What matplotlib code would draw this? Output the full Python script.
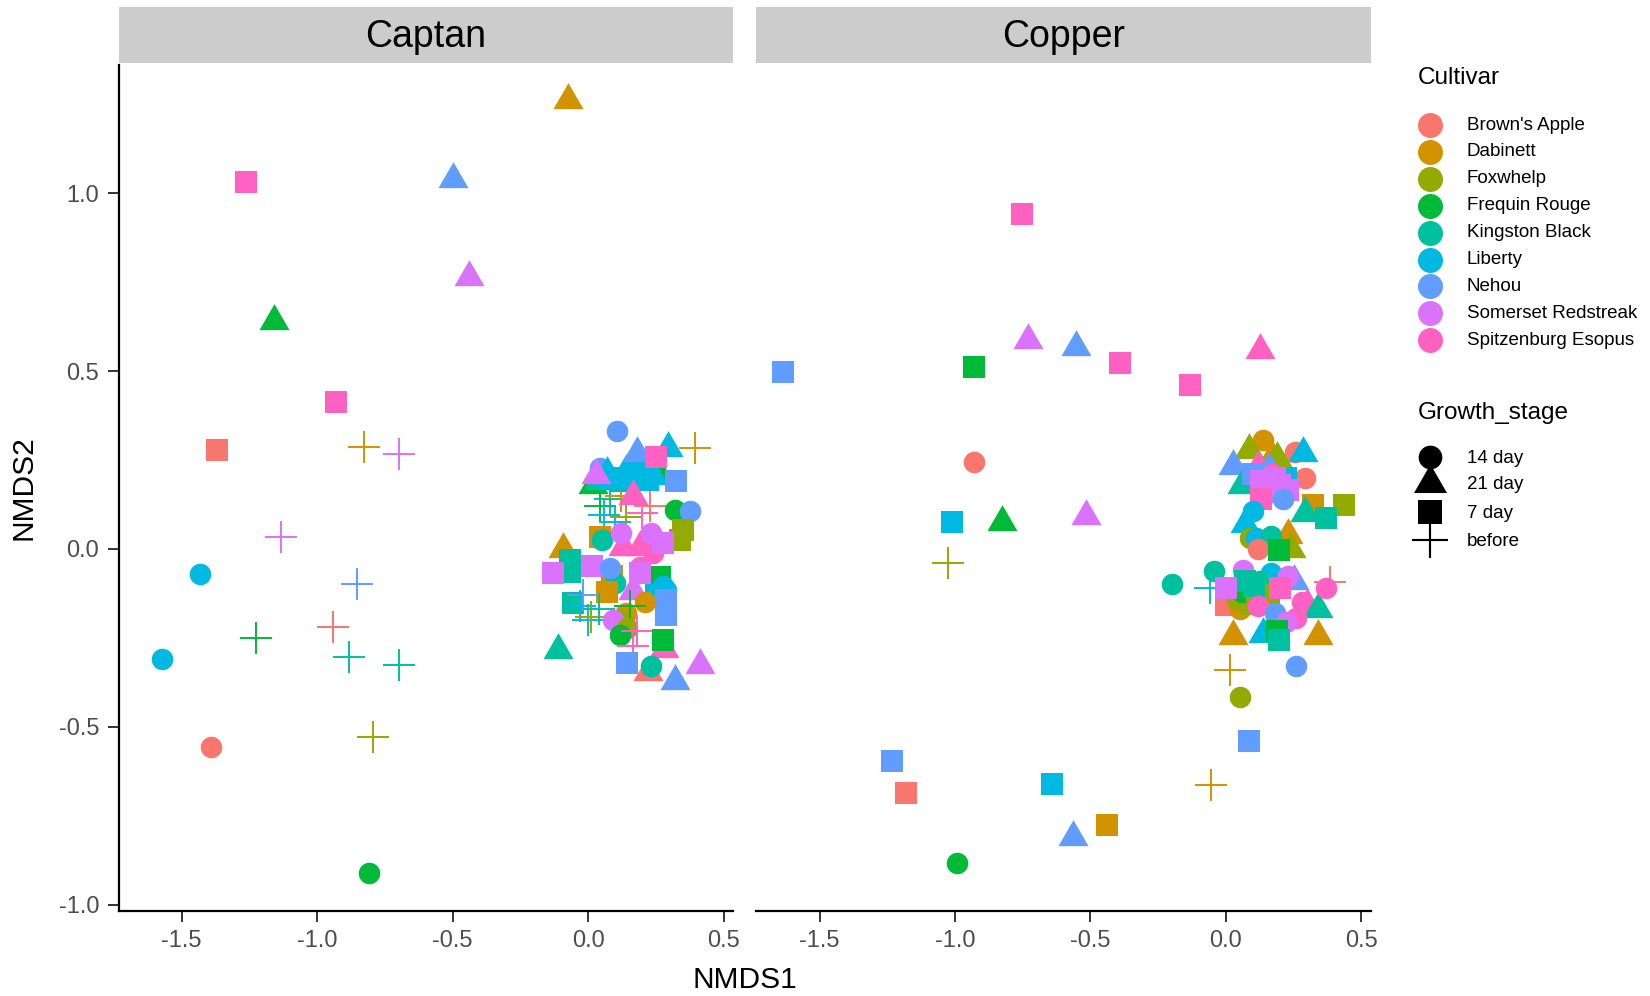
import matplotlib
matplotlib.use("Agg")
import matplotlib.pyplot as plt
import numpy as np

plt.rcParams['font.family'] = ['Liberation Sans', 'DejaVu Sans']

CULTIVARS = ["Brown's Apple", "Dabinett", "Foxwhelp", "Frequin Rouge", "Kingston Black",
             "Liberty", "Nehou", "Somerset Redstreak", "Spitzenburg Esopus"]
COLORS = ["#F8766D", "#D39200", "#93AA00", "#00BA38", "#00C19F",
          "#00B9E3", "#619CFF", "#DB72FB", "#FF61C3"]
STAGES = ["14 day", "21 day", "7 day", "before"]
FACETS = ["Captan", "Copper"]

# Captan: NMDS scores, cultivar index, stage index
cap_x = [-0.074, -1.264, -0.500, -0.438, -1.159, -0.930, -1.368, -0.826,
         -0.698, -1.132, -1.434, -0.853, -1.574, -1.225, -0.942, -0.884,
         -0.698, -0.795, -1.391, -0.810, 0.395, 0.045, 0.08, 0.12,
         0.06, 0.10, 0.14, 0.20, 0.23, 0.02, 0.19, 0.26,
         0.105, 0.043, 0.04, 0.06, 0.12, 0.07, 0.10, 0.14, 0.18, 0.22,
         0.20, 0.24, 0.295, 0.179, 0.252, 0.326, 0.031, 0.166, 0.32,
         0.375, 0.35, 0.34, 0.043, 0.05, 0.13, 0.19, 0.24,
         0.123, 0.234, 0.277, -0.092, -0.067, -0.067, -0.129, 0.09,
         0.013, 0.1, 0.08, 0.19, 0.265, 0.191, 0.277, 0.289, 0.25, 0.166,
         0.289, 0.289, -0.055, 0.07, -0.02, 0.21, 0.14, 0.12, -0.03, 0.0, 0.01,
         0.04, 0.155, 0.093, 0.142, 0.117, 0.18, 0.166, 0.22, 0.28,
         0.277, -0.11, 0.142, 0.234, 0.412, 0.32]
cap_y = [1.263, 1.033, 1.040, 0.766, 0.642, 0.414, 0.278, 0.287,
         0.266, 0.033, -0.071, -0.098, -0.308, -0.249, -0.219, -0.305,
         -0.325, -0.530, -0.556, -0.911, 0.284, 0.12, 0.14, 0.15,
         0.095, 0.075, 0.09, 0.10, 0.12, 0.18, 0.235, 0.21,
         0.331, 0.228, 0.19, 0.20, 0.19, 0.215, 0.20, 0.22, 0.20, 0.195,
         0.215, 0.205, 0.284, 0.27, 0.26, 0.19, 0.209, 0.148, 0.11,
         0.106, 0.054, 0.026, 0.035, 0.025, 0.005, 0.005, -0.01,
         0.045, 0.045, 0.017, 0.0, -0.03, -0.065, -0.067, -0.075,
         -0.049, -0.096, -0.053, -0.05, -0.08, -0.068, -0.105, -0.114, -0.13, -0.119,
         -0.143, -0.185, -0.152, -0.12, -0.13, -0.15, -0.18, -0.20, -0.16, -0.20, -0.19,
         -0.17, -0.16, -0.199, -0.222, -0.241, -0.23, -0.274, -0.345, -0.28,
         -0.255, -0.283, -0.32, -0.33, -0.325, -0.372]
cap_cv = [1, 8, 6, 7, 3, 8, 0, 1,
          7, 7, 5, 6, 5, 3, 0, 4,
          4, 2, 0, 3, 1, 3, 4, 1,
          5, 5, 2, 8, 0, 3, 3, 3,
          6, 6, 4, 5, 4, 5, 5, 5, 5, 5,
          5, 5, 5, 6, 8, 6, 7, 8, 3,
          6, 2, 2, 1, 4, 8, 8, 8,
          7, 7, 7, 1, 4, 4, 7, 1,
          7, 4, 6, 8, 3, 7, 5, 5, 5, 7,
          6, 6, 4, 1, 6, 1, 1, 2, 5, 5, 2,
          4, 3, 7, 2, 3, 8, 8, 0, 8,
          3, 4, 6, 4, 7, 6]
cap_st = [1, 2, 1, 1, 1, 2, 2, 3,
          3, 3, 0, 3, 0, 3, 3, 3,
          3, 3, 0, 0, 3, 3, 3, 3,
          3, 3, 3, 3, 3, 1, 1, 1,
          0, 0, 1, 0, 2, 1, 2, 1, 2, 2,
          2, 1, 1, 1, 2, 2, 1, 1, 0,
          0, 2, 2, 2, 0, 1, 1, 0,
          0, 0, 2, 1, 2, 2, 2, 2,
          2, 0, 0, 0, 2, 2, 0, 0, 2, 1,
          2, 2, 2, 2, 3, 0, 0, 0, 3, 3, 3,
          3, 3, 0, 0, 0, 3, 3, 1, 1,
          2, 1, 2, 0, 1, 1]

# Copper
cop_x = [-0.754, -1.636, -0.929, -0.730, -0.552, -0.392, -0.132, 0.124,
         -0.929, -1.010, -0.828, -0.517, -1.026, -0.198, 0.016, 0.050,
         -1.232, -1.181, 0.085, -0.641, -0.054, -0.439, -0.563, -0.991,
         0.385, 0.136, 0.086, 0.253, 0.283, 0.17, 0.19, 0.025,
         0.12, 0.16, 0.29, 0.22, 0.06, 0.086, 0.10, 0.17, 0.13, 0.18,
         0.15, 0.20, 0.23, 0.13, 0.21, 0.32, 0.437, 0.29, 0.37, 0.1,
         0.07, 0.09, 0.11, 0.23, 0.166, 0.12, 0.24, 0.197,
         -0.06, -0.043, 0.062, 0.25, 0.166, 0.228, 0.0, 0.05,
         0.04, 0.06, 0.07, 0.125, 0.0, 0.16, 0.10, 0.135, 0.11, 0.105, 0.2,
         0.12, 0.18, 0.28, 0.3,
         0.34, 0.26, 0.222, 0.025, 0.136, 0.19, 0.197, 0.339,
         0.259, 0.37]
cop_y = [0.941, 0.497, 0.512, 0.589, 0.568, 0.524, 0.462, 0.559,
         0.246, 0.077, 0.077, 0.092, -0.038, -0.098, -0.340, -0.417,
         -0.595, -0.686, -0.541, -0.660, -0.663, -0.775, -0.811, -0.882,
         -0.092, 0.307, 0.279, 0.274, 0.27, 0.26, 0.255, 0.232,
         0.23, 0.225, 0.20, 0.20, 0.18, 0.19, 0.21, 0.21, 0.19, 0.20,
         0.16, 0.18, 0.165, 0.14, 0.14, 0.125, 0.125, 0.10, 0.087, 0.106,
         0.07, 0.03, 0.03, 0.04, 0.036, 0.0, 0.0, -0.002,
         -0.11, -0.063, -0.058, -0.09, -0.068, -0.077, -0.157, -0.17,
         -0.14, -0.12, -0.09, -0.09, -0.11, -0.13, -0.16, -0.134, -0.14, -0.105, -0.11,
         -0.16, -0.18, -0.15, -0.157,
         -0.17, -0.195, -0.204, -0.246, -0.24, -0.23, -0.255, -0.246,
         -0.33, -0.11]
cop_cv = [8, 6, 3, 7, 6, 8, 8, 8,
          0, 5, 3, 7, 2, 4, 1, 2,
          6, 0, 6, 5, 1, 1, 6, 3,
          0, 1, 2, 0, 5, 1, 2, 6,
          8, 6, 0, 5, 4, 4, 6, 8, 7, 7,
          7, 7, 7, 8, 6, 1, 2, 4, 4, 5,
          5, 2, 5, 1, 4, 0, 2, 3,
          5, 4, 7, 6, 5, 7, 0, 1,
          2, 3, 4, 4, 7, 2, 2, 2, 2, 4, 8,
          8, 6, 8, 8,
          4, 8, 7, 1, 5, 3, 4, 1,
          6, 8]
cop_st = [2, 2, 2, 1, 1, 2, 2, 1,
          0, 2, 1, 1, 3, 0, 3, 0,
          2, 2, 2, 2, 3, 2, 1, 0,
          3, 0, 1, 0, 1, 1, 1, 1,
          1, 1, 0, 2, 1, 0, 2, 0, 2, 2,
          2, 2, 2, 2, 0, 2, 2, 1, 2, 0,
          1, 0, 0, 1, 0, 0, 1, 2,
          3, 0, 0, 1, 0, 0, 2, 0,
          0, 0, 2, 0, 2, 2, 1, 0, 0, 2, 2,
          0, 0, 0, 1,
          1, 0, 0, 1, 1, 2, 2, 1,
          0, 0]

# marker look (matplotlib pt)
tri = [(-1, -0.577), (1, -0.577), (0, 1.155)]
SHAPE = {0: ('o', 15.5), 1: (tri, 25), 2: ('s', 16), 3: ('+', 23)}


def draw_point(ax, x, y, cv, st, scale=1.0, color=None):
    m, ms = SHAPE[st]
    c = COLORS[cv] if color is None else color
    if st == 3:
        ax.plot(x, y, linestyle='none', marker=m, ms=ms * scale, color=c, mew=1.4 * scale)
    else:
        ax.plot(x, y, linestyle='none', marker=m, ms=ms * scale, color=c, mew=0)


W, H = 1650, 996
fig = plt.figure(figsize=(W / 100, H / 100), dpi=100)

panels = [(118.5, cap_x, cap_y, cap_cv, cap_st), (756.4, cop_x, cop_y, cop_cv, cop_st)]
pw = 614.8
top, bot = 65.0, 911.0
for i, (left, xs, ys, cvs, sts) in enumerate(panels):
    ax = fig.add_axes([left / W, 1 - bot / H, pw / W, (bot - top) / H])
    for x, y, cv, st in zip(xs, ys, cvs, sts):
        draw_point(ax, x, y, cv, st)
    ax.set_xlim(-1.733, 0.536)
    ax.set_ylim(-1.018, 1.361)
    ax.set_xticks([-1.5, -1.0, -0.5, 0.0, 0.5])
    ax.set_xticklabels(["-1.5", "-1.0", "-0.5", "0.0", "0.5"])
    ax.set_yticks([-1.0, -0.5, 0.0, 0.5, 1.0])
    ax.set_yticklabels(["-1.0", "-0.5", "0.0", "0.5", "1.0"])
    for s in ['top', 'right']:
        ax.spines[s].set_visible(False)
    for s in ['left', 'bottom']:
        ax.spines[s].set_linewidth(1.6)
        ax.spines[s].set_color('black')
    ax.tick_params(length=8, width=1.4, color='#333333', labelsize=17,
                   labelcolor='#4D4D4D', pad=6)
    if i == 1:
        ax.spines['left'].set_visible(False)
        ax.tick_params(axis='y', left=False, labelleft=False)

    # facet strip
    sax = fig.add_axes([left / W, 1 - 63 / H, pw / W, 56 / H])
    sax.set_facecolor('#CCCCCC')
    for s in sax.spines.values():
        s.set_visible(False)
    sax.set_xticks([])
    sax.set_yticks([])
    sax.text(0.5, 0.47, FACETS[i], ha='center', va='center', fontsize=27,
             color='black', transform=sax.transAxes)

fig.text(745 / W, 1 - 980 / H, "NMDS1", ha='center', va='center', fontsize=21.5)
fig.text(23 / W, 1 - 488 / H, "NMDS2", ha='center', va='center', fontsize=21.5,
         rotation=90)

# legends
lax = fig.add_axes([0, 0, 1, 1])
lax.set_xlim(0, W)
lax.set_ylim(H, 0)
lax.axis('off')
lax.text(1418, 78, "Cultivar", ha='left', va='center', fontsize=17.5)
for k, name in enumerate(CULTIVARS):
    yy = 125 + 26.9 * k
    lax.plot(1430, yy, linestyle='none', marker='o', ms=18, color=COLORS[k], mew=0)
    lax.text(1467, yy, name, ha='left', va='center', fontsize=13.5)

lax.text(1418, 413, "Growth_stage", ha='left', va='center', fontsize=17.5)
key_y = [457, 483, 512, 540]
for k, st in enumerate(STAGES):
    draw_point(lax, 1430, key_y[k], 0, k, scale=1.1, color='black')
    lax.text(1467, key_y[k] + 1, st, ha='left', va='center', fontsize=13.5)

fig.savefig("out.png", dpi=100)
